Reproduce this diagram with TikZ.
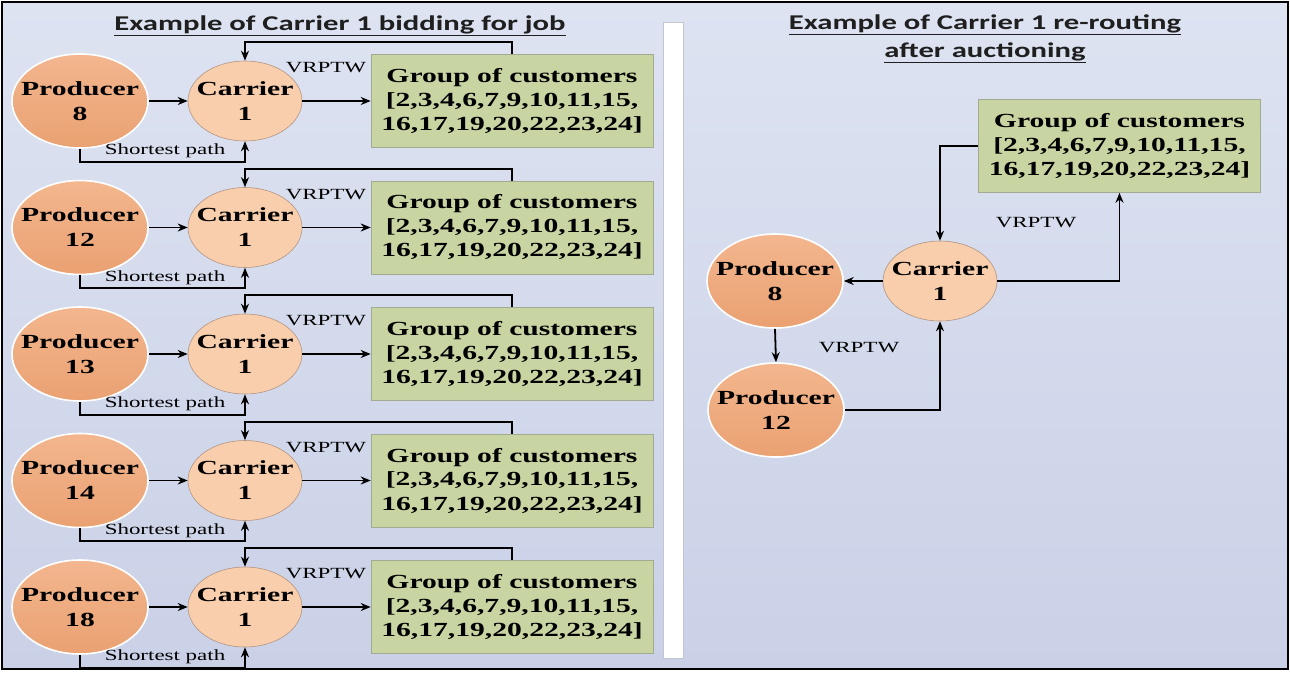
\documentclass[tikz,border=0pt]{standalone}
\usepackage{fontspec}
\setmainfont{Liberation Serif}[FakeStretch=1.48]
\newfontfamily\headfont{Carlito}[FakeStretch=1.46]
\usetikzlibrary{shapes.geometric,arrows.meta,calc}
\definecolor{bgtop}{HTML}{DDE3F1}
\definecolor{bgbot}{HTML}{CAD1E7}
\definecolor{prodtop}{HTML}{F3B68E}
\definecolor{prodbot}{HTML}{EAA172}
\definecolor{carrfill}{HTML}{F9CEAC}
\definecolor{carrline}{HTML}{B39482}
\definecolor{grpfill}{HTML}{C9D4A3}
\definecolor{grpline}{HTML}{A3AA92}
\definecolor{barline}{HTML}{C2C6CE}
\newcommand{\custlist}{Group of customers\\{[}2,3,4,6,7,9,10,11,15,\\16,17,19,20,22,23,24{]}}
\tikzset{
  prod/.style={ellipse, minimum width=136pt, minimum height=94pt,
    inner xsep=-14pt, inner ysep=0pt,
    top color=prodtop, bottom color=prodbot, draw=white, line width=1.6pt,
    align=center, font=\fontsize{20}{25}\selectfont\bfseries},
  carr/.style={ellipse, minimum width=114pt, minimum height=80pt,
    inner xsep=-12pt, inner ysep=0pt,
    fill=carrfill, draw=carrline, line width=0.6pt,
    align=center, font=\fontsize{20}{25}\selectfont\bfseries},
  grp/.style={rectangle, minimum width=282pt, minimum height=93pt, inner sep=0pt,
    fill=grpfill, draw=grpline, line width=0.6pt,
    align=center, font=\fontsize{20}{24}\selectfont\bfseries},
  arr/.style={-{Stealth[length=10pt,width=8pt]}, line width=1.8pt, black},
  lbl/.style={font=\fontsize{15.5}{18}\selectfont, inner sep=0pt},
  ttl/.style={font=\headfont\fontsize{21}{28}\selectfont\bfseries, align=center,
    inner sep=0pt, text=black!88}
}
\begin{document}
\begin{tikzpicture}[x=1pt,y=-1pt]
\useasboundingbox (0,0) rectangle (1290,672);
% background panel and frame
\shade[top color=bgtop, bottom color=bgbot] (2,2) rectangle (1288,669);
\draw[black, line width=1.5pt] (2,2) rectangle (1288,669);
% separator bar
\draw[fill=white, draw=barline, line width=0.8pt] (663,22) rectangle (683,658);

% left panel title
\node[ttl] (tl) at (340,26) {\underline{Example of Carrier 1 bidding for job}};

% left panel: one bidding row per producer
\foreach \n [count=\i from 0] in {8,12,13,14,18} {
  \pgfmathsetmacro\cy{101+126.5*\i}
  \node[prod] (p\i) at (80,\cy) {Producer\\\n};
  \node[carr] (c\i) at (245,\cy) {Carrier\\1};
  \node[grp] (g\i) at (512,\cy) {\custlist};
  \node[lbl] (v\i) at (326,\cy-33) {VRPTW};
  \draw[arr] (p\i) -- (c\i);
  \draw[arr] (c\i) -- (g\i);
  \draw[arr] (g\i.north) -- ++(0,-12) -| (c\i.north);
  \draw[arr] (p\i.south) -- ++(0,13) -| (c\i.south);
  \node[lbl] (s\i) at (165,\cy+50) {Shortest path};
}

% right panel title
\node[ttl] (tr) at (985,39) {\underline{Example of Carrier 1 re-routing}\\\underline{after auctioning}};

% right panel: re-routed tour
\node[grp] (G) at (1119.5,146) {\custlist};
\node[carr] (C) at (940,281) {Carrier\\1};
\node[prod] (P8) at (775,281) {Producer\\8};
\node[prod] (P12) at (776,410) {Producer\\12};
\node[lbl] (V1) at (1036,223) {VRPTW};
\node[lbl] (V2) at (859,348) {VRPTW};
\draw[arr] (G.west) -| (C.north);
\draw[arr] (C.east) -| (G.south);
\draw[arr] (C.west) -- (P8.east);
\draw[arr] (P8.south) -- (P12.north);
\draw[arr] (P12.east) -| (C.south);
\end{tikzpicture}
\end{document}
